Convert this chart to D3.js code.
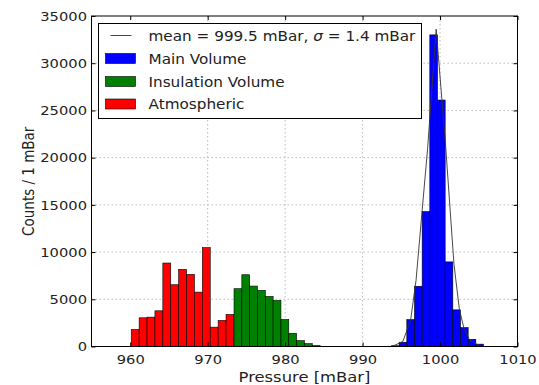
<!DOCTYPE html>
<html>
<head>
<meta charset="utf-8">
<script src="https://cdn.jsdelivr.net/npm/d3@7"></script>
<style>
  body { margin: 0; background: #fff; }
  text { font-family: "DejaVu Sans", sans-serif; fill: #222; }
</style>
</head>
<body>
<div id="chart"></div>
<script>
// histogram bins: first left edge, bin width, counts per bin
const atmStart = 960.13, atmWidth = 1.02;
const atmCounts = [1800, 3040, 3110, 3780, 8840, 6540, 8170, 7640, 5760, 10470, 2050, 2760, 3390];

const insStart = 973.4, insWidth = 1.01;
const insCounts = [6120, 7600, 6400, 5940, 5300, 4880, 2860, 1400, 620, 300, 100];

const mainStart = 993.73, mainWidth = 0.99;
const mainCounts = [80, 450, 2850, 6380, 14290, 33000, 26100, 8960, 3880, 2000, 760, 250];

// fitted curve
const fitPressure = [993.8, 995.2, 996.2, 996.9, 997.7, 998.4, 999.5, 1000.7, 1001.3, 1001.8, 1002.5, 1003.1, 1003.8, 1005.2];
const fitCounts   = [0, 530, 2800, 7000, 14500, 21000, 33600, 21500, 14500, 8700, 3900, 1900, 700, 0];

const xTicks = [960, 970, 980, 990, 1000, 1010];
const yTicks = [0, 5000, 10000, 15000, 20000, 25000, 30000, 35000];

const legendLabels = ["mean = 999.5 mBar, ", "Main Volume", "Insulation Volume", "Atmospheric"];

const W = 539, H = 385;
const m = { left: 91.5, right: 21.5, top: 16, bottom: 38.5 };
const sx = 1.13; // the picture is a bit wider than tall, text too

const svg = d3.select('#chart').append('svg')
    .attr('width', W)
    .attr('height', H);

const x = d3.scaleLinear().domain([955, 1010]).range([m.left, W - m.right]);
const y = d3.scaleLinear().domain([0, 35000]).range([H - m.bottom, m.top]);

// grid
const grid = svg.append('g').attr('stroke', '#aaa').attr('stroke-width', 0.8)
    .attr('stroke-dasharray', '1.5,2.5');
grid.selectAll('.gx').data(xTicks.slice(1, -1)).enter().append('line')
    .attr('x1', d => x(d)).attr('x2', d => x(d))
    .attr('y1', m.top).attr('y2', H - m.bottom);
grid.selectAll('.gy').data(yTicks.slice(1, -1)).enter().append('line')
    .attr('x1', m.left).attr('x2', W - m.right)
    .attr('y1', d => y(d)).attr('y2', d => y(d));

// bars
const toBins = (start, width, counts) => counts.map((c, i) => ({ x0: start + i * width, x1: start + (i + 1) * width, c }));
const series = [
    { bins: toBins(atmStart, atmWidth, atmCounts), color: '#ff0000' },
    { bins: toBins(insStart, insWidth, insCounts), color: '#008000' },
    { bins: toBins(mainStart, mainWidth, mainCounts), color: '#0000ff' }
];
series.forEach(s => {
    svg.append('g').selectAll('rect').data(s.bins).enter().append('rect')
        .attr('x', d => x(d.x0))
        .attr('width', d => x(d.x1) - x(d.x0))
        .attr('y', d => y(d.c))
        .attr('height', d => y(0) - y(d.c))
        .attr('fill', s.color)
        .attr('stroke', '#000')
        .attr('stroke-width', 0.6);
});

// fit line
const line = d3.line().x(d => x(d[0])).y(d => y(d[1]));
svg.append('path')
    .datum(d3.zip(fitPressure, fitCounts))
    .attr('d', line)
    .attr('fill', 'none')
    .attr('stroke', '#333')
    .attr('stroke-width', 0.9);

// axes frame + inward ticks
const axB = d3.axisBottom(x).tickValues(xTicks).tickSize(-4).tickPadding(8).tickFormat(d3.format('d'));
const axT = d3.axisTop(x).tickValues(xTicks).tickSize(-4).tickFormat('');
const axL = d3.axisLeft(y).tickValues(yTicks).tickSize(-4).tickPadding(4).tickFormat(d3.format('d'));
const axR = d3.axisRight(y).tickValues(yTicks).tickSize(-4).tickFormat('');

const styleAxis = g => {
    g.select('.domain').remove();
    g.selectAll('line').attr('stroke', '#000');
    g.selectAll('text').attr('font-size', 13).attr('fill', '#222')
        .attr('font-family', '"DejaVu Sans", sans-serif')
        .attr('transform', `scale(${sx},1)`);
};
svg.append('g').attr('transform', `translate(0,${H - m.bottom})`).call(axB).call(styleAxis);
svg.append('g').attr('transform', `translate(0,${m.top})`).call(axT).call(styleAxis);
svg.append('g').attr('transform', `translate(${m.left},0)`).call(axL).call(styleAxis);
svg.append('g').attr('transform', `translate(${W - m.right},0)`).call(axR).call(styleAxis);

svg.append('rect')
    .attr('x', m.left).attr('y', m.top)
    .attr('width', W - m.left - m.right).attr('height', H - m.top - m.bottom)
    .attr('fill', 'none').attr('stroke', '#000').attr('stroke-width', 1);

// axis labels
svg.append('text')
    .attr('transform', `translate(${(m.left + W - m.right) / 2},${H - 3}) scale(${sx},1)`)
    .attr('text-anchor', 'middle').attr('font-size', 14.5)
    .text('Pressure [mBar]');
svg.append('text')
    .attr('transform', `translate(34,${(m.top + H - m.bottom) / 2}) scale(${sx},1) rotate(-90)`)
    .attr('text-anchor', 'middle').attr('font-size', 13.5)
    .text('Counts / 1 mBar');

// legend
const lg = svg.append('g').attr('transform', 'translate(98.5,23.5)');
lg.append('rect').attr('width', 323).attr('height', 95)
    .attr('fill', '#fff').attr('stroke', '#000').attr('stroke-width', 1);
const rowY = [12, 35, 58, 80.5];
lg.append('line').attr('x1', 12).attr('x2', 33).attr('y1', rowY[0]).attr('y2', rowY[0])
    .attr('stroke', '#333').attr('stroke-width', 0.9);
['#0000ff', '#008000', '#ff0000'].forEach((c, i) => {
    lg.append('rect').attr('x', 7).attr('y', rowY[i + 1] - 5).attr('width', 30).attr('height', 10)
        .attr('fill', c).attr('stroke', '#000').attr('stroke-width', 0.6);
});
legendLabels.forEach((t, i) => {
    const tx = lg.append('text')
        .attr('transform', `translate(50,${rowY[i] + 5}) scale(${sx},1)`)
        .attr('font-size', 13.5).text(t);
    if (i === 0) {
        tx.append('tspan').attr('font-style', 'italic').text('σ');
        tx.append('tspan').text(' = 1.4 mBar');
    }
});
</script>
</body>
</html>
